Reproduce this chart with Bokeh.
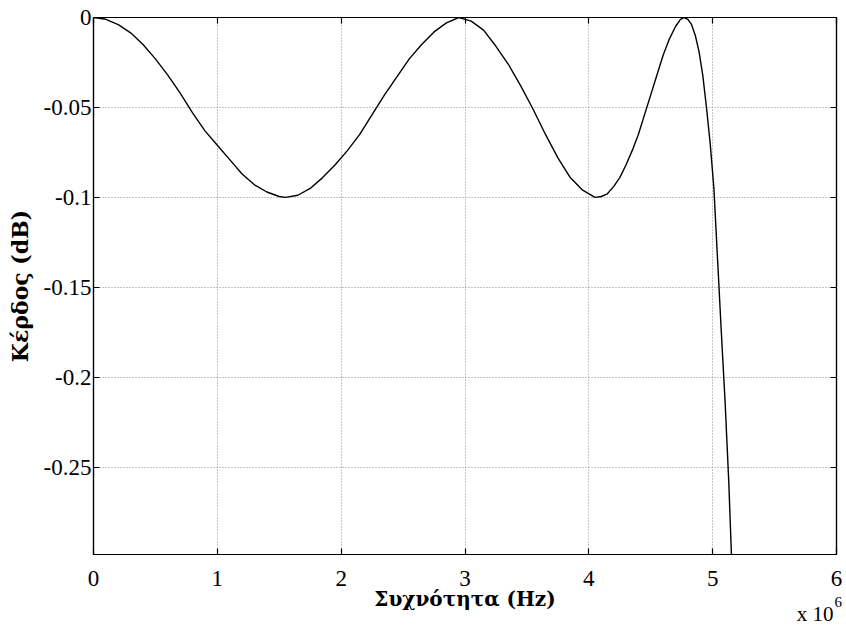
import math
from bokeh.plotting import figure
from bokeh.models import LinearAxis, FixedTicker, Range1d, Label, Grid
from bokeh.embed import file_html
from bokeh.resources import INLINE

# Frequency in units of 10^6 Hz, gain in dB
freq_mhz = [0.0, 0.1, 0.2, 0.3, 0.4, 0.5, 0.6, 0.7, 0.8, 0.9, 1.0, 1.1, 1.2, 1.3,
            1.4, 1.5, 1.55, 1.65, 1.75, 1.85, 1.95, 2.05, 2.15, 2.25, 2.35, 2.45,
            2.55, 2.65, 2.75, 2.85, 2.95, 3.05, 3.15, 3.25, 3.35, 3.45, 3.55, 3.65,
            3.75, 3.85, 3.95, 4.05, 4.10, 4.15, 4.20, 4.25, 4.30, 4.35, 4.40, 4.45,
            4.50, 4.55, 4.60, 4.65, 4.70, 4.74, 4.77, 4.80, 4.83, 4.86, 4.89, 4.92,
            4.95, 4.98, 5.01, 5.04, 5.07, 5.10, 5.13, 5.155]
gain_db = [0.0, -0.001, -0.004, -0.0085, -0.015, -0.023, -0.032, -0.042, -0.053,
           -0.063, -0.071, -0.079, -0.087, -0.093, -0.097, -0.0995, -0.1, -0.0988,
           -0.095, -0.089, -0.082, -0.074, -0.065, -0.054, -0.043, -0.033, -0.023,
           -0.015, -0.008, -0.003, 0.0, -0.002, -0.007, -0.016, -0.026, -0.038,
           -0.051, -0.065, -0.078, -0.089, -0.096, -0.1, -0.0995, -0.098, -0.094,
           -0.089, -0.082, -0.074, -0.065, -0.054, -0.043, -0.032, -0.021, -0.012,
           -0.005, -0.001, 0.0, -0.001, -0.004, -0.010, -0.019, -0.032, -0.05,
           -0.070, -0.095, -0.135, -0.175, -0.213, -0.258, -0.305]

x_ticks = [0, 1, 2, 3, 4, 5, 6]
x_tick_labels = ["0", "1", "2", "3", "4", "5", "6"]
y_ticks = [0.0, -0.05, -0.1, -0.15, -0.2, -0.25]
y_tick_labels = ["0", "-0.05", "-0.1", "-0.15", "-0.2", "-0.25"]

x_label = "Συχνότητα (Hz)"
y_label = "Κέρδος (dB)"
x_scale_note = "x 10"
x_scale_exp = "6"

SERIF = "Liberation Serif"
LABEL_FONT = "DejaVu Serif"

p = figure(width=846, height=625, output_backend="svg", toolbar_location=None,
           x_range=Range1d(0, 6), y_range=Range1d(-0.2985, 0.0),
           min_border_left=93, min_border_right=10, min_border_top=17,
           min_border_bottom=71, x_axis_type=None, y_axis_type=None)
p.background_fill_color = "white"
p.border_fill_color = "white"
p.outline_line_color = "black"
p.outline_line_width = 1.2

# bottom ticks (no labels), bottom labels (no ticks), top and right ticks
xbt = LinearAxis(ticker=FixedTicker(ticks=x_ticks))
xb = LinearAxis(ticker=FixedTicker(ticks=x_ticks),
                major_label_overrides={t: l for t, l in zip(x_ticks, x_tick_labels)})
yl = LinearAxis(ticker=FixedTicker(ticks=y_ticks),
                major_label_overrides={t: l for t, l in zip(y_ticks, y_tick_labels)})
xt = LinearAxis(ticker=FixedTicker(ticks=x_ticks))
yr = LinearAxis(ticker=FixedTicker(ticks=y_ticks))

for ax in (xbt, xb, yl, xt, yr):
    ax.major_tick_in = 6
    ax.major_tick_out = 0
    ax.minor_tick_in = 0
    ax.minor_tick_out = 0
    ax.axis_line_color = "black"
    ax.axis_line_width = 1.2
    ax.major_tick_line_color = "black"
    ax.major_tick_line_width = 1.2
    ax.major_label_text_font = SERIF
    ax.major_label_text_font_size = "23px"
    ax.major_label_text_color = "black"

for ax in (xbt, xt, yr):
    ax.major_label_text_font_size = "0px"
    ax.major_label_standoff = 0

xb.major_tick_in = 0
xb.axis_line_color = None
xb.major_tick_line_color = None
xb.major_label_standoff = -8
yl.major_label_standoff = 2

xb.axis_label = x_label
xb.axis_label_standoff = -2
yl.axis_label = y_label
yl.axis_label_standoff = 8
for ax in (xb, yl):
    ax.axis_label_text_font = LABEL_FONT
    ax.axis_label_text_font_style = "bold"
    ax.axis_label_text_color = "black"
xb.axis_label_text_font_size = "20px"
yl.axis_label_text_font_size = "22px"

p.add_layout(xbt, "below")
# "x 10^6" scale note: base in a panel below the frame, exponent in the right panel
p.add_layout(Label(x=740, y=-35, x_units="screen", y_units="screen", text=x_scale_note,
                   text_font=SERIF, text_font_size="21px", text_align="right",
                   text_baseline="alphabetic", text_color="black"), "below")
p.add_layout(xb, "below")
p.add_layout(yl, "left")
p.add_layout(xt, "above")
p.add_layout(yr, "right")
p.add_layout(Label(x=-2, y=-47, x_units="screen", y_units="screen", text=x_scale_exp,
                   text_font=SERIF, text_font_size="15px", text_align="left",
                   text_baseline="alphabetic", text_color="black"), "right")

gx = Grid(dimension=0, ticker=FixedTicker(ticks=x_ticks))
gy = Grid(dimension=1, ticker=FixedTicker(ticks=y_ticks))
for g in (gx, gy):
    g.grid_line_color = "#8a8a8a"
    g.grid_line_dash = "1 2"
    g.grid_line_width = 1
p.add_layout(gx)
p.add_layout(gy)

p.line(freq_mhz, gain_db, line_color="black", line_width=1.4)

open("out.html", "w").write(file_html(p, INLINE))
